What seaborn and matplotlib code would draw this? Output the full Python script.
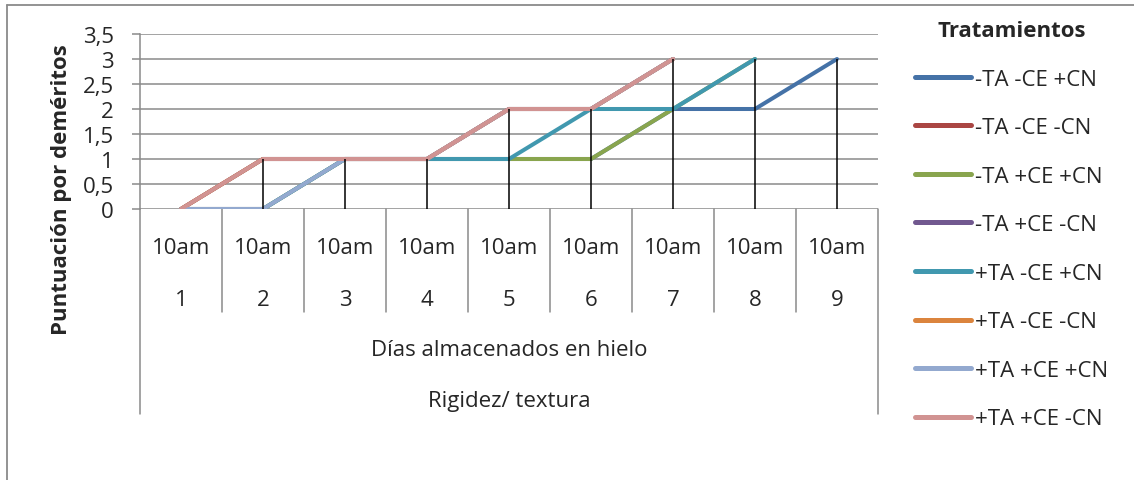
import numpy as np
import pandas as pd
import matplotlib
matplotlib.use("Agg")
import matplotlib.pyplot as plt
from matplotlib.lines import Line2D
from matplotlib.transforms import blended_transform_factory
import seaborn as sns

# Storage days on ice and the sampling hour for each day
dias = [1, 2, 3, 4, 5, 6, 7, 8, 9]
horas = ["10am"] * 9

# Demerit scores (rigidity / texture) per treatment; None = no longer evaluated
tratamientos = ["-TA -CE +CN", "-TA -CE -CN", "-TA +CE +CN", "-TA +CE -CN",
                "+TA -CE +CN", "+TA -CE -CN", "+TA +CE +CN", "+TA +CE -CN"]
ta_n_ce_n_cn_p = [0, 0, 1, 1, 1, 1, 2, 2, 3]
ta_n_ce_n_cn_n = [0, 1, 1, 1, 2, 2, 3, None, None]
ta_n_ce_p_cn_p = [0, 0, 1, 1, 1, 1, 2, 3, None]
ta_n_ce_p_cn_n = [0, 1, 1, 1, 2, 2, 3, None, None]
ta_p_ce_n_cn_p = [0, 0, 1, 1, 1, 2, 2, 3, None]
ta_p_ce_n_cn_n = [0, 1, 1, 1, 2, 2, 3, None, None]
ta_p_ce_p_cn_p = [0, 0, 1, 1, 2, 2, 3, None, None]
ta_p_ce_p_cn_n = [0, 1, 1, 1, 2, 2, 3, None, None]

colores = ["#4572A7", "#AA4643", "#89A54E", "#71588F",
           "#4198AF", "#DB843D", "#93A9CF", "#D19392"]

series = [ta_n_ce_n_cn_p, ta_n_ce_n_cn_n, ta_n_ce_p_cn_p, ta_n_ce_p_cn_n,
          ta_p_ce_n_cn_p, ta_p_ce_n_cn_n, ta_p_ce_p_cn_p, ta_p_ce_p_cn_n]

rows = []
for nombre, valores in zip(tratamientos, series):
    for i, v in enumerate(valores):
        if v is not None:
            rows.append({"pos": i, "Tratamiento": nombre, "Puntuación": float(v)})
df = pd.DataFrame(rows)

sns.set_theme(style="white")
plt.rcParams["font.family"] = ["Open Sans", "DejaVu Sans"]
FS = 16
GRID = "#8a8a8a"

W, H = 1134, 481
fig = plt.figure(figsize=(W / 100, H / 100), dpi=100)
ax_l, ax_r, ax_t, ax_b = 140, 878, 35, 210
ax = fig.add_axes([ax_l / W, 1 - ax_b / H, (ax_r - ax_l) / W, (ax_b - ax_t) / H])

sns.lineplot(data=df, x="pos", y="Puntuación", hue="Tratamiento",
             hue_order=tratamientos, palette=colores, linewidth=2.9,
             ax=ax, legend=True, zorder=3)
for ln in ax.get_lines():
    ln.set_solid_capstyle("round")
    ln.set_solid_joinstyle("round")

# Drop lines from the highest score at each day down to the category axis
maximos = df.groupby("pos")["Puntuación"].max()
ax.vlines(maximos.index, 0, maximos.values, colors="black", linewidth=1.1, zorder=4)

ax.set_xlim(-0.5, len(dias) - 0.5)
ax.set_ylim(0, 3.5)
yticks = np.arange(0, 3.51, 0.5)
ax.set_yticks(yticks)
ax.set_yticklabels([("%g" % t).replace(".", ",") for t in yticks], fontsize=FS)
ax.set_xticks([])
ax.set_xlabel("")
ax.set_ylabel("")
ax.yaxis.grid(True, color=GRID, linewidth=1.1)
ax.tick_params(axis="y", length=5.8, width=1.1, color=GRID, pad=13, left=True)
for s in ["top", "right", "bottom"]:
    ax.spines[s].set_visible(False)
ax.spines["left"].set_color(GRID)
ax.spines["left"].set_linewidth(1.1)

# Category table below the axis
tr = blended_transform_factory(ax.transData, ax.transAxes)
def ay(px):
    return (ax_b - px) / (ax_b - ax_t)

for k in range(1, len(dias)):
    ax.plot([k - 0.5, k - 0.5], [0, ay(313)], color=GRID, lw=1.1,
            transform=tr, clip_on=False)
for xe in [-0.5, len(dias) - 0.5]:
    ax.plot([xe, xe], [0, ay(415)], color=GRID, lw=1.1,
            transform=tr, clip_on=False)
for i, (h, d) in enumerate(zip(horas, dias)):
    ax.text(i, ay(248), h, ha="center", va="center", fontsize=FS, transform=tr)
    ax.text(i, ay(300), str(d), ha="center", va="center", fontsize=FS, transform=tr)
ax.text(0.5, ay(350), "Días almacenados en hielo", ha="center", va="center",
        fontsize=FS, transform=ax.transAxes)
ax.text(0.5, ay(401), "Rigidez/ textura", ha="center", va="center",
        fontsize=FS, transform=ax.transAxes)

fig.text(62 / W, 1 - 190 / H, "Puntuación por deméritos", rotation=90,
         ha="center", va="center", fontsize=FS, fontweight="bold")

# Legend
handles, labels = ax.get_legend_handles_labels()
ax.get_legend().remove()
leg = fig.legend(handles, labels, loc="upper left",
                 bbox_to_anchor=(915 / W, 1 - 21 / H), frameon=False,
                 fontsize=FS, title="Tratamientos",
                 title_fontproperties={"weight": "bold", "size": FS},
                 handlelength=2.5, handletextpad=0.2, labelspacing=1.24,
                 borderpad=0, borderaxespad=0)
leg._legend_box.align = "center"
for h in leg.get_lines():
    h.set_linewidth(3.6)
    h.set_solid_capstyle("round")

# Chart area border
fig.add_artist(Line2D([7 / W, 7 / W], [0, 1 - 6 / H], color=GRID, lw=1.3))
fig.add_artist(Line2D([7 / W, 1], [1 - 6 / H, 1 - 6 / H], color=GRID, lw=1.3))

fig.savefig("out.png", dpi=100)
